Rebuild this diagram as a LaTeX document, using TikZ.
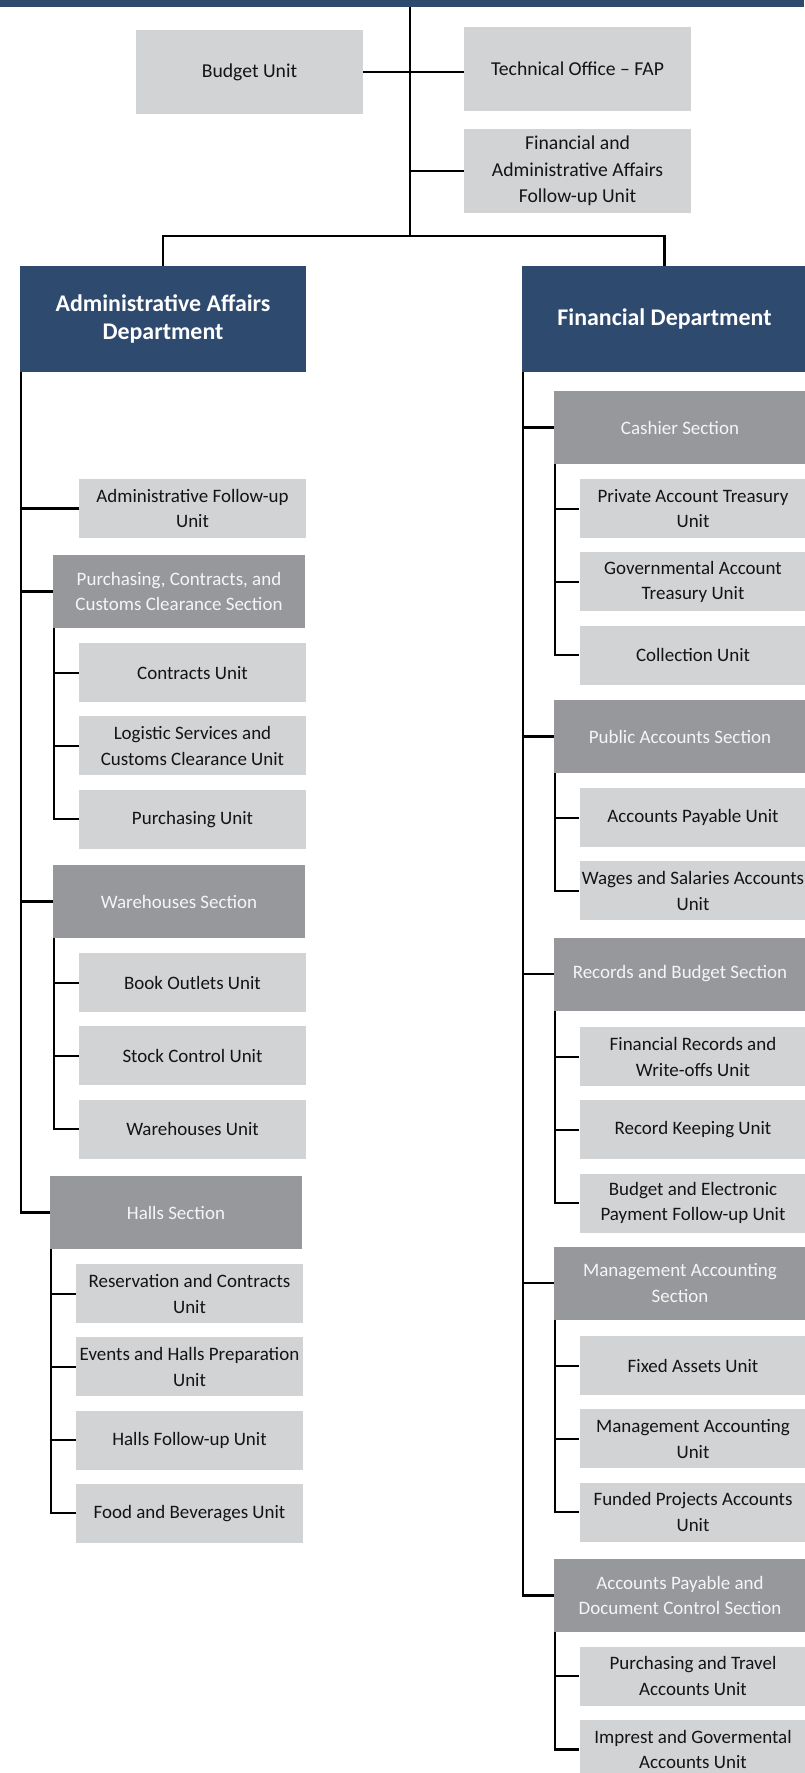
\documentclass[tikz,border=0pt]{standalone}
\usepackage{fontspec}
\setmainfont{Carlito}
\usepackage{tikz}
\usetikzlibrary{positioning}
\definecolor{headclr}{RGB}{46,74,110}
\definecolor{sectclr}{RGB}{151,152,155}
\definecolor{unitclr}{RGB}{210,211,213}
\definecolor{txtclr}{RGB}{20,20,20}
\tikzset{
    box/.style={rectangle,inner sep=0pt,align=center},
    head/.style={box,fill=headclr,text=white,minimum width=5.72cm,minimum height=2.12cm,font=\bfseries\fontsize{13.6}{16.1}\selectfont},
    sect/.style={box,fill=sectclr,text=white!96!black,minimum width=5.04cm,minimum height=1.46cm,font=\fontsize{10.8}{14.6}\selectfont},
    unitbox/.style={box,fill=unitclr,text=txtclr,minimum width=4.54cm,minimum height=1.18cm,font=\fontsize{10.8}{14.6}\selectfont},
    topbox/.style={unitbox,minimum height=1.68cm,font=\fontsize{11.2}{15.2}\selectfont},
    link/.style={draw=black,line width=1.3pt},
}

\begin{document}
\begin{tikzpicture}[x=0.02cm,y=-0.02cm,node distance=0.27cm]
\useasboundingbox (0,0) rectangle (804,1773);
\fill[headclr] (0,0) rectangle (804,7);
\coordinate (top) at (410,7);
\coordinate (bus) at (410,236);

\node[topbox] (budget) at (249.5,72) {Budget Unit};
\node[topbox] (techoff) at (577.5,69) {Technical Office -- FAP};
\node[topbox] (faf) at (577.5,171) {Financial and\\Administrative Affairs\\Follow-up Unit};

\node[head] (adm) at (163,319) {Administrative Affairs\\Department};
\node[head] (fin) at (664.5,319) {Financial Department};

% administrative side
\node[unitbox] (admfu) at (192.5,508.5) {Administrative Follow-up\\Unit};
\node[sect] (pcc) at (179,591.5) {Purchasing, Contracts, and\\Customs Clearance Section};
\node[unitbox,below=0.29cm of pcc,xshift=0.27cm] (contracts) {Contracts Unit};
\node[unitbox,below=of contracts] (logistic) {Logistic Services and\\Customs Clearance Unit};
\node[unitbox,below=of logistic] (purchasing) {Purchasing Unit};
\node[sect] (whsec) at (179,901.5) {Warehouses Section};
\node[unitbox,below=0.29cm of whsec,xshift=0.27cm] (books) {Book Outlets Unit};
\node[unitbox,below=of books] (stock) {Stock Control Unit};
\node[unitbox,below=of stock] (whunit) {Warehouses Unit};
\node[sect] (halls) at (176,1212.5) {Halls Section};
\node[unitbox,below=0.29cm of halls,xshift=0.27cm] (reserv) {Reservation and Contracts\\Unit};
\node[unitbox,below=of reserv] (events) {Events and Halls Preparation\\Unit};
\node[unitbox,below=of events] (hallsfu) {Halls Follow-up Unit};
\node[unitbox,below=of hallsfu] (food) {Food and Beverages Unit};

% financial side
\node[sect] (cashier) at (680,427.5) {Cashier Section};
\node[unitbox,below=0.29cm of cashier,xshift=0.26cm] (privacc) {Private Account Treasury\\Unit};
\node[unitbox,below=of privacc] (govacc) {Governmental Account\\Treasury Unit};
\node[unitbox,below=of govacc] (collect) {Collection Unit};
\node[sect] (pubacc) at (680,736.5) {Public Accounts Section};
\node[unitbox,below=0.29cm of pubacc,xshift=0.26cm] (payable) {Accounts Payable Unit};
\node[unitbox,below=of payable] (wages) {Wages and Salaries Accounts\\Unit};
\node[sect] (recbud) at (680,974) {Records and Budget Section};
\node[unitbox,below=0.32cm of recbud,xshift=0.26cm] (finrec) {Financial Records and\\Write-offs Unit};
\node[unitbox,below=of finrec] (reckeep) {Record Keeping Unit};
\node[unitbox,below=of reckeep] (budelec) {Budget and Electronic\\Payment Follow-up Unit};
\node[sect] (mgmtsec) at (680,1283) {Management Accounting\\Section};
\node[unitbox,below=0.32cm of mgmtsec,xshift=0.26cm] (fixed) {Fixed Assets Unit};
\node[unitbox,below=of fixed] (mgmtunit) {Management Accounting\\Unit};
\node[unitbox,below=of mgmtunit] (funded) {Funded Projects Accounts\\Unit};
\node[sect] (apdc) at (680,1595.5) {Accounts Payable and\\Document Control Section};
\node[unitbox,below=0.28cm of apdc,xshift=0.26cm] (travel) {Purchasing and Travel\\Accounts Unit};
\node[unitbox,below=of travel] (imprest) {Imprest and Govermental\\Accounts Unit};

% trunk heads
\coordinate (ltrunk) at ([xshift=0.02cm]adm.south west);
\coordinate (rtrunk) at ([xshift=0.035cm]fin.south west);
\coordinate (pcctr) at ([xshift=0.03cm]pcc.south west);
\coordinate (whtr) at ([xshift=0.03cm]whsec.south west);
\coordinate (halltr) at ([xshift=0.03cm]halls.south west);
\coordinate (cashtr) at ([xshift=0.03cm]cashier.south west);
\coordinate (pubtr) at ([xshift=0.03cm]pubacc.south west);
\coordinate (rectr) at ([xshift=0.03cm]recbud.south west);
\coordinate (mgmttr) at ([xshift=0.03cm]mgmtsec.south west);
\coordinate (apdctr) at ([xshift=0.03cm]apdc.south west);

\draw[link] (top) -- (bus);
\draw[link] (budget.east) -- (budget.east -| techoff.west);
\draw[link] (top |- faf.west) -- (faf.west);
\draw[link] (adm.north) |- (bus) -| (fin.north);

\draw[link] (ltrunk) |- (halls.west);
\draw[link] (ltrunk |- admfu.west) -- (admfu.west);
\draw[link] (ltrunk |- pcc.west) -- (pcc.west);
\draw[link] (ltrunk |- whsec.west) -- (whsec.west);
\draw[link] (pcctr) |- (purchasing.west);
\draw[link] (pcctr |- contracts.west) -- (contracts.west);
\draw[link] (pcctr |- logistic.west) -- (logistic.west);
\draw[link] (whtr) |- (whunit.west);
\draw[link] (whtr |- books.west) -- (books.west);
\draw[link] (whtr |- stock.west) -- (stock.west);
\draw[link] (halltr) |- (food.west);
\draw[link] (halltr |- reserv.west) -- (reserv.west);
\draw[link] (halltr |- events.west) -- (events.west);
\draw[link] (halltr |- hallsfu.west) -- (hallsfu.west);

\draw[link] (rtrunk) |- (apdc.west);
\draw[link] (rtrunk |- cashier.west) -- (cashier.west);
\draw[link] (rtrunk |- pubacc.west) -- (pubacc.west);
\draw[link] (rtrunk |- recbud.west) -- (recbud.west);
\draw[link] (rtrunk |- mgmtsec.west) -- (mgmtsec.west);
\draw[link] (cashtr) |- (collect.west);
\draw[link] (cashtr |- privacc.west) -- (privacc.west);
\draw[link] (cashtr |- govacc.west) -- (govacc.west);
\draw[link] (pubtr) |- (wages.west);
\draw[link] (pubtr |- payable.west) -- (payable.west);
\draw[link] (rectr) |- (budelec.west);
\draw[link] (rectr |- finrec.west) -- (finrec.west);
\draw[link] (rectr |- reckeep.west) -- (reckeep.west);
\draw[link] (mgmttr) |- (funded.west);
\draw[link] (mgmttr |- fixed.west) -- (fixed.west);
\draw[link] (mgmttr |- mgmtunit.west) -- (mgmtunit.west);
\draw[link] (apdctr) |- (imprest.west);
\draw[link] (apdctr |- travel.west) -- (travel.west);
\end{tikzpicture}
\end{document}
